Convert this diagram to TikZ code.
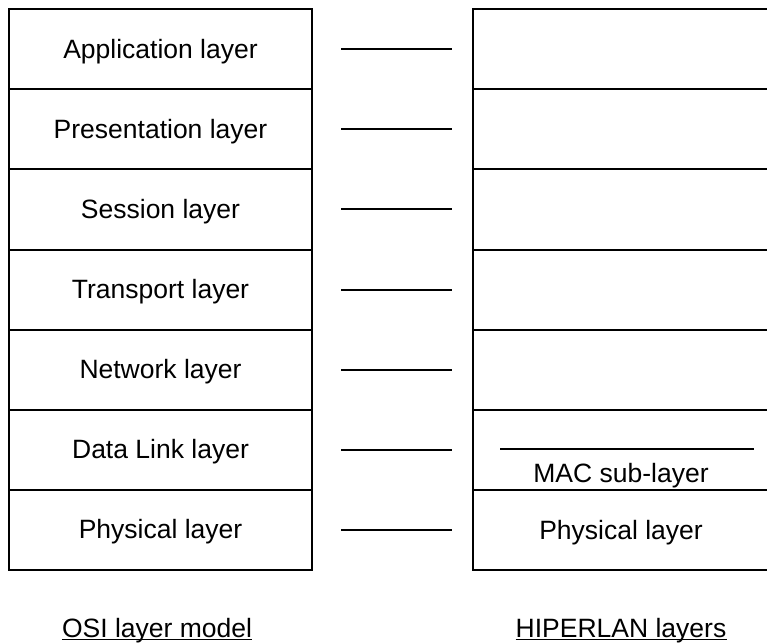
\documentclass[tikz,border=0pt]{standalone}
\usepackage{fontspec}
\setmainfont{Liberation Sans}
\begin{document}
\begin{tikzpicture}[x=1pt,y=-1pt,
  every node/.style={font=\fontsize{26.5}{31}\selectfont},
  osibox/.style={draw,line width=2pt,minimum width=303pt,minimum height=80pt,inner sep=0pt},
  hipbox/.style={draw,line width=2pt,minimum width=310pt,minimum height=80pt,inner sep=0pt},
  lbl/.style={anchor=base,inner sep=0pt},
  link/.style={line width=2pt},
  caption/.style={anchor=base,inner sep=0pt}]
\useasboundingbox (0,0) rectangle (767,644);

% OSI reference model, top to bottom
\foreach \i/\t in {1/Application layer,2/Presentation layer,3/Session layer,
                   4/Transport layer,5/Network layer,6/Data Link layer,7/Physical layer}{
  \node[osibox] (osi\i) at (160.5,{9.5+80*\i-40}) {};
  \node[lbl] (osit\i) at ([yshift=-9pt]osi\i.center) {\t};
  \node[hipbox] (hip\i) at (628,{9.5+80*\i-40}) {};
  \draw[link] ([xshift=28pt]osi\i.east) -- ([xshift=-20pt]hip\i.west);
}

% HIPERLAN texts
\coordinate (macl) at (500,449);
\coordinate (macr) at (754,449);
\draw[link] (macl) -- (macr);
\node[lbl] (mac) at (621,482) {MAC sub-layer};
\node[lbl] (phy) at (621,539) {Physical layer};

% captions
\node[caption] (cosi) at (157,637) {OSI layer model};
\draw[line width=1.8pt] ([yshift=-2.5pt]cosi.base west) -- ([yshift=-2.5pt]cosi.base east);
\node[caption] (chip) at (621,637) {HIPERLAN layers};
\draw[line width=1.8pt] ([yshift=-2.5pt]chip.base west) -- ([yshift=-2.5pt]chip.base east);
\end{tikzpicture}
\end{document}
